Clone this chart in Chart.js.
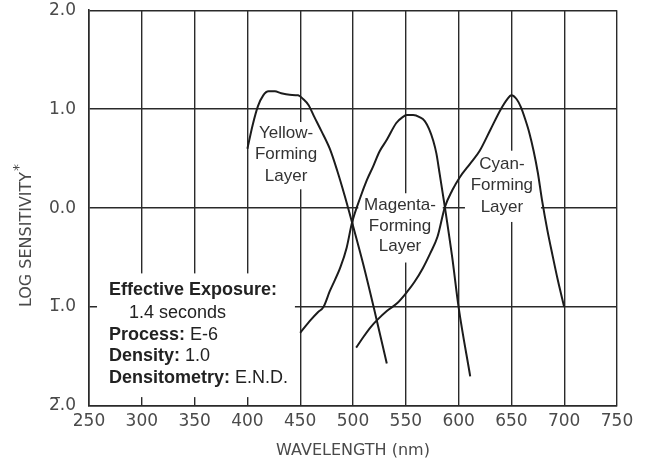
<!DOCTYPE html>
<html>
<head>
<meta charset="utf-8">
<script src="https://cdn.jsdelivr.net/npm/chart.js@4.4.1/dist/chart.umd.min.js"></script>
<style>
  html, body { margin: 0; padding: 0; background: #fff; }
  #wrap { width: 649px; height: 474px; }
</style>
</head>
<body>
<div id="wrap"><canvas id="c" width="649" height="474"></canvas></div>
<script>
// Wavelength axis (nm) and log-sensitivity axis tick labels
const wavelengthMin = 250;
const wavelengthMax = 750;
const wavelengthStep = 50;
const logValues = [-2, -1, 0, 1, 2];
const logTickLabels = ['2\u0305.0', '1\u0305.0', '0.0', '1.0', '2.0'];

// Yellow-forming layer
const yellowNm  = [400, 405, 410, 415, 420, 426, 432, 440, 448, 453, 458, 463, 470, 478, 485, 492, 499, 510, 520, 532];
const yellowLog = [0.60, 0.84, 1.03, 1.14, 1.18, 1.18, 1.16, 1.145, 1.14, 1.10, 1.04, 0.93, 0.78, 0.60, 0.38, 0.13, -0.14, -0.58, -1.02, -1.57];

// Magenta-forming layer
const magentaNm  = [450, 460, 467, 472, 478, 488, 494, 499, 507, 513, 519, 525, 532, 541, 547, 551, 557, 563, 568, 572, 576, 579, 582, 587, 594, 600, 611];
const magentaLog = [-1.26, -1.13, -1.05, -1.00, -0.84, -0.60, -0.40, -0.15, 0.11, 0.28, 0.42, 0.57, 0.69, 0.86, 0.92, 0.94, 0.94, 0.92, 0.88, 0.80, 0.68, 0.55, 0.35, 0.01, -0.50, -1.00, -1.70];

// Cyan-forming layer
const cyanNm  = [503, 510, 517, 523, 532, 542, 551, 558, 566, 573, 580, 587, 594, 601, 611, 620, 630, 640, 646, 650, 655, 659, 663, 667, 671, 675, 679, 684, 689, 694, 700];
const cyanLog = [-1.41, -1.30, -1.20, -1.13, -1.04, -0.96, -0.85, -0.75, -0.61, -0.46, -0.29, 0.01, 0.18, 0.31, 0.45, 0.58, 0.79, 1.00, 1.10, 1.14, 1.10, 1.02, 0.90, 0.76, 0.58, 0.36, 0.08, -0.22, -0.48, -0.73, -1.00];

const toPoints = (xs, ys) => xs.map((x, i) => ({ x: x, y: ys[i] }));

const INK = '#2a2a2a';
const TEXT = '#4a4a4a';
const AXIS_FONT = 'DejaVu Sans';
const LABEL_FONT = 'Liberation Sans, Arial, sans-serif';

// White patches that open the grid behind the in-plot captions (data units)
const gridGaps = [
  { x0: 412, x1: 462, y0: 0.19, y1: 0.87 },     // behind yellow caption
  { x0: 505, x1: 585, y0: -0.55, y1: 0.15 },    // behind magenta caption
  { x0: 606, x1: 678, y0: -0.14, y1: 0.58 },    // behind cyan caption
  { x0: 257.6, x1: 445, y0: -1.91, y1: -0.66 }  // behind the exposure note
];

const curveCaptions = [
  { x: 436.6, y: [0.76, 0.545, 0.32], lines: ['Yellow-', 'Forming', 'Layer'] },
  { x: 544.5, y: [0.03, -0.18, -0.39], lines: ['Magenta-', 'Forming', 'Layer'] },
  { x: 641.0, y: [0.44, 0.23, 0.01], lines: ['Cyan-', 'Forming', 'Layer'] }
];

const noteLines = [
  { bold: 'Effective Exposure:', normal: '', indent: 0 },
  { bold: '', normal: '1.4 seconds', indent: 20 },
  { bold: 'Process:', normal: ' E-6', indent: 0 },
  { bold: 'Density:', normal: ' 1.0', indent: 0 },
  { bold: 'Densitometry:', normal: ' E.N.D.', indent: 0 }
];
const noteX = 268.9;
const noteY = [-0.828, -1.06, -1.283, -1.495, -1.717];

const gridGapPlugin = {
  id: 'gridGaps',
  beforeDatasetsDraw(chart) {
    const { ctx, scales: { x, y } } = chart;
    ctx.save();
    ctx.fillStyle = '#ffffff';
    gridGaps.forEach(g => {
      const px0 = x.getPixelForValue(g.x0), px1 = x.getPixelForValue(g.x1);
      const py0 = y.getPixelForValue(g.y1), py1 = y.getPixelForValue(g.y0);
      ctx.fillRect(px0, py0, px1 - px0, py1 - py0);
    });
    ctx.restore();
  }
};

const textPlugin = {
  id: 'chartText',
  afterDatasetsDraw(chart) {
    const { ctx, scales: { x, y } } = chart;
    ctx.save();

    // curve captions
    ctx.fillStyle = '#333';
    ctx.font = '17px ' + LABEL_FONT;
    ctx.textAlign = 'center';
    ctx.textBaseline = 'middle';
    curveCaptions.forEach(c => {
      const px = x.getPixelForValue(c.x);
      c.lines.forEach((t, i) => ctx.fillText(t, px, y.getPixelForValue(c.y[i])));
    });

    // exposure note
    ctx.textAlign = 'left';
    ctx.fillStyle = '#222';
    const left = x.getPixelForValue(noteX);
    noteLines.forEach((ln, i) => {
      const py = y.getPixelForValue(noteY[i]);
      let px = left + ln.indent;
      if (ln.bold) {
        ctx.font = 'bold 18px ' + LABEL_FONT;
        ctx.fillText(ln.bold, px, py);
        px += ctx.measureText(ln.bold).width;
      }
      if (ln.normal) {
        ctx.font = '18px ' + LABEL_FONT;
        ctx.fillText(ln.normal, px, py);
      }
    });

    // vertical axis title with raised asterisk
    const main = 'LOG SENSITIVITY';
    ctx.font = '16px ' + AXIS_FONT;
    ctx.fillStyle = TEXT;
    const wMain = ctx.measureText(main).width;
    ctx.font = '14px ' + AXIS_FONT;
    const wStar = ctx.measureText('*').width;
    ctx.translate(27, 236);
    ctx.rotate(-Math.PI / 2);
    const start = -(wMain + wStar) / 2;
    ctx.font = '16px ' + AXIS_FONT;
    ctx.fillText(main, start, 0);
    ctx.font = '14px ' + AXIS_FONT;
    ctx.fillText('*', start + wMain + 1, -8);
    ctx.restore();
  }
};

const lineStyle = {
  borderColor: '#1c1c1c',
  borderWidth: 2,
  pointRadius: 0,
  fill: false,
  cubicInterpolationMode: 'monotone'
};

new Chart(document.getElementById('c'), {
  type: 'line',
  data: {
    datasets: [
      Object.assign({ label: 'Yellow-Forming Layer', data: toPoints(yellowNm, yellowLog) }, lineStyle),
      Object.assign({ label: 'Magenta-Forming Layer', data: toPoints(magentaNm, magentaLog) }, lineStyle),
      Object.assign({ label: 'Cyan-Forming Layer', data: toPoints(cyanNm, cyanLog) }, lineStyle)
    ]
  },
  options: {
    responsive: false,
    animation: false,
    devicePixelRatio: 1,
    layout: { padding: { top: 0, right: 32, left: 0, bottom: 0 } },
    plugins: { legend: { display: false }, tooltip: { enabled: false } },
    scales: {
      x: {
        type: 'linear',
        min: wavelengthMin,
        max: wavelengthMax,
        ticks: { stepSize: wavelengthStep, color: TEXT, font: { family: AXIS_FONT, size: 17 }, padding: 5 },
        grid: { color: INK, lineWidth: 1.4, drawTicks: false },
        border: { color: INK, width: 1.6 },
        title: { display: true, text: 'WAVELENGTH (nm)', color: TEXT, font: { family: AXIS_FONT, size: 16 }, padding: { top: 0, bottom: 14 } },
        afterFit(s) { s.height = 68; }
      },
      y: {
        type: 'linear',
        min: -2,
        max: 2,
        afterBuildTicks(s) { s.ticks = logValues.map(v => ({ value: v })); },
        ticks: {
          color: TEXT,
          font: { family: AXIS_FONT, size: 17 },
          padding: 0,
          callback: v => logTickLabels[logValues.indexOf(v)]
        },
        grid: { color: INK, lineWidth: 1.4, drawTicks: true, tickLength: 13, tickColor: 'rgba(0,0,0,0)' },
        border: { color: INK, width: 1.6 },
        afterFit(s) { s.width = 89; }
      }
    }
  },
  plugins: [gridGapPlugin, textPlugin]
});
</script>
</body>
</html>
